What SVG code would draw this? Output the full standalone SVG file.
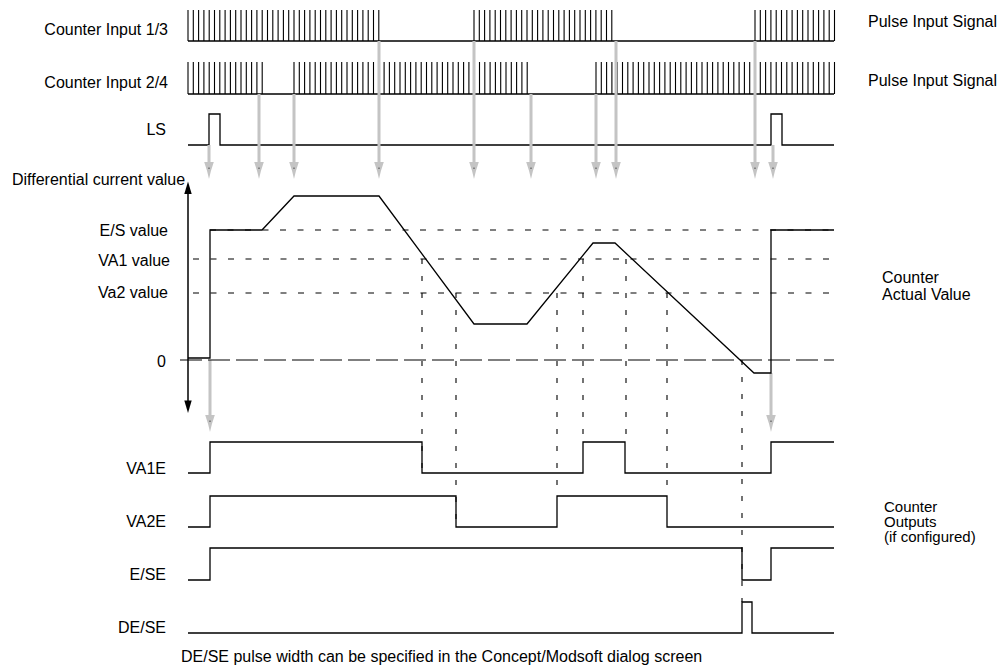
<svg xmlns="http://www.w3.org/2000/svg" width="1003" height="667" viewBox="0 0 1003 667">
<style>
text{font-family:"Liberation Sans",Arial,Helvetica,sans-serif;font-size:16px;fill:#000}
.e{text-anchor:end}
.sm{font-size:15px}
.sig{fill:none;stroke:#000;stroke-width:1.3}
.tk{fill:none;stroke:#000;stroke-width:1.1}
.ga{stroke:#c4c4c4;stroke-width:3;fill:none}
.gd{fill:none;stroke:#000;stroke-width:1.2;stroke-dasharray:6 11.5}
.vd{fill:none;stroke:#000;stroke-width:1.1;stroke-dasharray:5 12}
.ld{fill:none;stroke:#000;stroke-width:1.2;stroke-dasharray:22 6}
</style>
<defs>
<g id="ah"><path d="M-4.8,-17 L4.8,-17 Q1.6,-8 0,0 Q-1.6,-8 -4.8,-17Z" fill="#c4c4c4"/><rect x="-0.5" y="-11.5" width="1" height="1.5" fill="#444"/></g>
</defs>

<g id="input13">
<text class="e" x="168" y="35">Counter Input 1/3</text>
<path class="sig" d="M188 41H834"/>
<path class="tk" d="M188 41V10m5.3 31v-31m5.3 31v-31m5.3 31v-31m5.3 31v-31m5.3 31v-31m5.3 31v-31m5.3 31v-31m5.3 31v-31m5.3 31v-31m5.3 31v-31m5.3 31v-31m5.3 31v-31m5.3 31v-31m5.3 31v-31m5.3 31v-31m5.3 31v-31m5.3 31v-31m5.3 31v-31m5.3 31v-31m5.3 31v-31m5.3 31v-31m5.3 31v-31m5.3 31v-31m5.3 31v-31m5.3 31v-31m5.3 31v-31m5.3 31v-31m5.3 31v-31m5.3 31v-31m5.3 31v-31m5.3 31v-31m5.3 31v-31m5.3 31v-31m5.3 31v-31m5.3 31v-31m5.3 31v-31"/>
<path class="tk" d="M474 41V10m5.3 31v-31m5.3 31v-31m5.3 31v-31m5.3 31v-31m5.3 31v-31m5.3 31v-31m5.3 31v-31m5.3 31v-31m5.3 31v-31m5.3 31v-31m5.3 31v-31m5.3 31v-31m5.3 31v-31m5.3 31v-31m5.3 31v-31m5.3 31v-31m5.3 31v-31m5.3 31v-31m5.3 31v-31m5.3 31v-31m5.3 31v-31m5.3 31v-31m5.3 31v-31m5.3 31v-31m5.3 31v-31m5.3 31v-31"/>
<path class="tk" d="M755 41V10m5.3 31v-31m5.3 31v-31m5.3 31v-31m5.3 31v-31m5.3 31v-31m5.3 31v-31m5.3 31v-31m5.3 31v-31m5.3 31v-31m5.3 31v-31m5.3 31v-31m5.3 31v-31m5.3 31v-31m5.3 31v-31m5.3 31v-31"/>
<text x="868" y="27">Pulse Input Signal</text>
</g>

<g id="input24">
<text class="e" x="168" y="88">Counter Input 2/4</text>
<path class="sig" d="M188 94H834"/>
<path class="tk" d="M188 94V62m5.3 32v-32m5.3 32v-32m5.3 32v-32m5.3 32v-32m5.3 32v-32m5.3 32v-32m5.3 32v-32m5.3 32v-32m5.3 32v-32m5.3 32v-32m5.3 32v-32m5.3 32v-32m5.3 32v-32m5.3 32v-32"/>
<path class="tk" d="M294 94V62m5.3 32v-32m5.3 32v-32m5.3 32v-32m5.3 32v-32m5.3 32v-32m5.3 32v-32m5.3 32v-32m5.3 32v-32m5.3 32v-32m5.3 32v-32m5.3 32v-32m5.3 32v-32m5.3 32v-32m5.3 32v-32m5.3 32v-32m5.3 32v-32m5.3 32v-32m5.3 32v-32m5.3 32v-32m5.3 32v-32m5.3 32v-32m5.3 32v-32m5.3 32v-32m5.3 32v-32m5.3 32v-32m5.3 32v-32m5.3 32v-32m5.3 32v-32m5.3 32v-32m5.3 32v-32m5.3 32v-32m5.3 32v-32m5.3 32v-32m5.3 32v-32m5.3 32v-32m5.3 32v-32m5.3 32v-32m5.3 32v-32m5.3 32v-32m5.3 32v-32m5.3 32v-32m5.3 32v-32m5.3 32v-32m5.3 32v-32"/>
<path class="tk" d="M596 94V62m5.3 32v-32m5.3 32v-32m5.3 32v-32m5.3 32v-32m5.3 32v-32m5.3 32v-32m5.3 32v-32m5.3 32v-32m5.3 32v-32m5.3 32v-32m5.3 32v-32m5.3 32v-32m5.3 32v-32m5.3 32v-32m5.3 32v-32m5.3 32v-32m5.3 32v-32m5.3 32v-32m5.3 32v-32m5.3 32v-32m5.3 32v-32m5.3 32v-32m5.3 32v-32m5.3 32v-32m5.3 32v-32m5.3 32v-32m5.3 32v-32m5.3 32v-32m5.3 32v-32m5.3 32v-32m5.3 32v-32m5.3 32v-32m5.3 32v-32m5.3 32v-32m5.3 32v-32m5.3 32v-32m5.3 32v-32m5.3 32v-32m5.3 32v-32m5.3 32v-32m5.3 32v-32m5.3 32v-32m5.3 32v-32m5.3 32v-32m5.3 32v-32"/>
<text x="868" y="86">Pulse Input Signal</text>
</g>

<g id="ls">
<text class="e" x="166" y="135">LS</text>
<path class="sig" d="M188 145H209V114H220V145H771V114H782V145H834"/>
</g>

<g id="connectors">
<path class="ga" d="M209 145V164M259 94V164M294 94V164M379 41V164M474 41V164M531 94V164M596 94V164M616 41V164M755 41V164M773 145V164M210 360V417M771 373V417"/>
<use href="#ah" x="209" y="179"/>
<use href="#ah" x="259" y="179"/>
<use href="#ah" x="294" y="179"/>
<use href="#ah" x="379" y="179"/>
<use href="#ah" x="474" y="179"/>
<use href="#ah" x="531" y="179"/>
<use href="#ah" x="596" y="179"/>
<use href="#ah" x="616" y="179"/>
<use href="#ah" x="755" y="179"/>
<use href="#ah" x="773" y="179"/>
<use href="#ah" x="210" y="432"/>
<use href="#ah" x="771" y="432"/>
<path class="vd" d="M422 259V473M456 293V527M557 293V496M583 259V442M626 259V442M667 293V496M742 360V602"/>
</g>

<g id="actual-value">
<text x="12" y="185">Differential current value</text>
<path d="M188 193V401" stroke="#000" stroke-width="1.5"/>
<path d="M188 181.5L191.7 194H184.3Z" fill="#000"/>
<path d="M188 413L191.7 400.5H184.3Z" fill="#000"/>
<text class="e" x="168" y="236">E/S value</text>
<text class="e" x="170" y="266">VA1 value</text>
<text class="e" x="168" y="298">Va2 value</text>
<text class="e" x="166" y="367">0</text>
<path class="gd" d="M210 230H834"/>
<path class="gd" d="M193 259H834M193 293H834"/>
<path class="ld" d="M180 360H834"/>
<path class="sig" d="M188 358H210V230H262L294 196H379L474 324H527L593 243H615L754 373H771V230H834"/>
<text x="882" y="283">Counter</text>
<text x="882" y="300">Actual Value</text>
</g>

<g id="va1e">
<text class="e" x="166" y="474">VA1E</text>
<path class="sig" d="M188 473H210V442H422V473H583V442H625V473H771V442H834"/>
</g>
<g id="va2e">
<text class="e" x="166" y="527">VA2E</text>
<path class="sig" d="M188 527H210V496H456V527H557V496H667V527H834"/>
</g>
<g id="ese">
<text class="e" x="166" y="580">E/SE</text>
<path class="sig" d="M188 580H210V548H742V580H771V548H834"/>
</g>
<g id="dese">
<text class="e" x="166" y="633">DE/SE</text>
<path class="sig" d="M188 633H742V602H752V633H834"/>
</g>
<g id="outputs-label">
<text class="sm" x="884" y="512">Counter</text>
<text class="sm" x="884" y="527">Outputs</text>
<text class="sm" x="884" y="542">(if configured)</text>
</g>
<g id="note">
<text x="181" y="662">DE/SE pulse width can be specified in the Concept/Modsoft dialog screen</text>
</g>
</svg>
